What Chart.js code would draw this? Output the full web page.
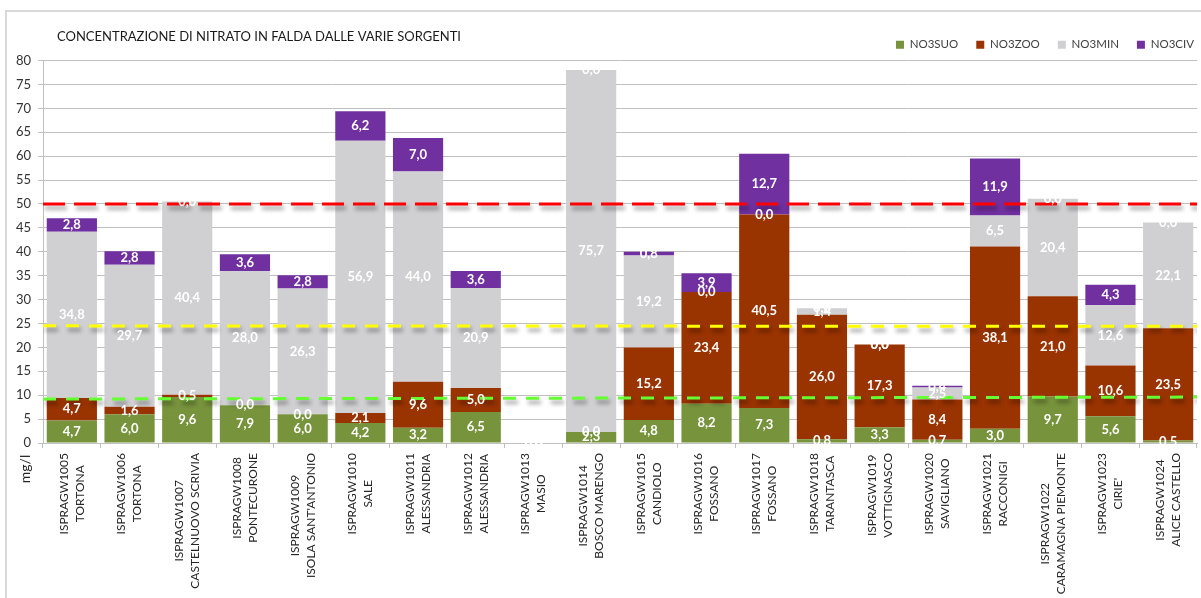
<!DOCTYPE html>
<html lang="it">
<head>
<meta charset="UTF-8">
<title>Nitrato in falda</title>
<script src="https://cdn.jsdelivr.net/npm/chart.js"></script>
<style>
  body { margin: 0; background: #fff; }
  .frame {
    position: absolute; left: 5px; top: 10px; width: 1196px; height: 588px;
    border-left: 2px solid #d9d9d9; border-top: 2px solid #d9d9d9;
  }
  #chart { position: absolute; left: 0; top: 0; }
</style>
</head>
<body>
<div class="frame"></div>
<canvas id="chart" width="1201" height="598"></canvas>
<script>
// stazioni di monitoraggio
const codes = ['ISPRAGW1005', 'ISPRAGW1006', 'ISPRAGW1007', 'ISPRAGW1008', 'ISPRAGW1009',
  'ISPRAGW1010', 'ISPRAGW1011', 'ISPRAGW1012', 'ISPRAGW1013', 'ISPRAGW1014',
  'ISPRAGW1015', 'ISPRAGW1016', 'ISPRAGW1017', 'ISPRAGW1018', 'ISPRAGW1019',
  'ISPRAGW1020', 'ISPRAGW1021', 'ISPRAGW1022', 'ISPRAGW1023', 'ISPRAGW1024'];
const places = ['TORTONA', 'TORTONA', 'CASTELNUOVO SCRIVIA', 'PONTECURONE', "ISOLA SANT'ANTONIO",
  'SALE', 'ALESSANDRIA', 'ALESSANDRIA', 'MASIO', 'BOSCO MARENGO',
  'CANDIOLO', 'FOSSANO', 'FOSSANO', 'TARANTASCA', 'VOTTIGNASCO',
  'SAVIGLIANO', 'RACCONIGI', 'CARAMAGNA PIEMONTE', "CIRIE'", 'ALICE CASTELLO'];

// mg/l per sorgente
const no3suo = [4.7, 6.0, 9.6, 7.9, 6.0, 4.2, 3.2, 6.5, 0.0, 2.3, 4.8, 8.2, 7.3, 0.8, 3.3, 0.7, 3.0, 9.7, 5.6, 0.5];
const no3zoo = [4.7, 1.6, 0.5, 0.0, 0.0, 2.1, 9.6, 5.0, 0.0, 0.0, 15.2, 23.4, 40.5, 26.0, 17.3, 8.4, 38.1, 21.0, 10.6, 23.5];
const no3min = [34.8, 29.7, 40.4, 28.0, 26.3, 56.9, 44.0, 20.9, 0.0, 75.7, 19.2, 0.0, 0.0, 1.4, 0.0, 2.5, 6.5, 20.4, 12.6, 22.1];
const no3civ = [2.8, 2.8, 0.0, 3.6, 2.8, 6.2, 7.0, 3.6, 0.0, 0.0, 0.8, 3.9, 12.7, 0.0, 0.0, 0.4, 11.9, 0.0, 4.3, 0.0];

// soglie orizzontali (inizio, fine)
const limit50 = [50.0, 50.0];
const limitMid = [24.5, 24.4];
const limitLow = [9.2, 9.6];

const yTicks = { min: 0, max: 80, step: 5 };

const FONT = 'Lato';

const lineShadow = {
  id: 'lineShadow',
  beforeDatasetDraw(chart, args) {
    if (args.meta.type !== 'line') return;
    const ctx = chart.ctx;
    ctx.save();
    ctx.shadowColor = 'rgba(0,0,0,0.4)';
    ctx.shadowBlur = 4;
    ctx.shadowOffsetX = 2;
    ctx.shadowOffsetY = 4;
  },
  afterDatasetDraw(chart, args) {
    if (args.meta.type !== 'line') return;
    chart.ctx.restore();
  }
};

// legenda spostata a filo del bordo destro
const legendNudge = {
  id: 'legendNudge',
  afterLayout(chart) {
    chart.legend.left += 15;
    chart.legend.right += 15;
  }
};

const valueLabels = {
  id: 'valueLabels',
  afterDatasetsDraw(chart) {
    const ctx = chart.ctx;
    ctx.save();
    ctx.font = 'bold 13px ' + FONT;
    ctx.fillStyle = '#ffffff';
    ctx.textAlign = 'center';
    ctx.textBaseline = 'middle';
    chart.data.datasets.forEach((ds, i) => {
      if (ds.type === 'line') return;
      chart.getDatasetMeta(i).data.forEach((bar, j) => {
        const txt = ds.data[j].toFixed(1).replace('.', ',');
        ctx.fillText(txt, bar.x, (bar.y + bar.base) / 2);
      });
    });
    ctx.restore();
  }
};

const textBits = {
  id: 'textBits',
  afterDraw(chart) {
    const ctx = chart.ctx;
    const xs = chart.scales.x;
    ctx.save();
    ctx.textBaseline = 'middle';

    // titolo
    ctx.font = '13px ' + FONT;
    ctx.fillStyle = '#1a1a1a';
    ctx.textAlign = 'left';
    ctx.fillText('CONCENTRAZIONE DI NITRATO IN FALDA DALLE VARIE SORGENTI', 57, 37);

    // etichette stazioni, ruotate e centrate fra loro
    ctx.font = '12px ' + FONT;
    ctx.fillStyle = '#262626';
    ctx.textAlign = 'center';
    const top = xs.top + 10;
    codes.forEach((code, i) => {
      const lines = [code, places[i]];
      const len = Math.max(...lines.map(t => ctx.measureText(t).width));
      const cx = xs.getPixelForTick(i);
      lines.forEach((t, k) => {
        ctx.save();
        ctx.translate(cx + (k - 0.5) * 16, top + len / 2);
        ctx.rotate(-Math.PI / 2);
        ctx.fillText(t, 0, 0);
        ctx.restore();
      });
    });

    // unità di misura
    ctx.font = '14px ' + FONT;
    ctx.fillStyle = '#262626';
    ctx.translate(25, 469);
    ctx.rotate(-Math.PI / 2);
    ctx.fillText('mg/l', 0, 0);
    ctx.restore();
  }
};

const thresholdLine = (vals, color, dash, stack) => ({
  type: 'line',
  label: stack,
  data: [{ x: 0, y: vals[0] }, { x: 1, y: vals[1] }],
  xAxisID: 'x2',
  stack: stack,
  borderColor: color,
  borderWidth: 3,
  borderDash: dash,
  pointRadius: 0,
  fill: false,
  order: -1
});

new Chart(document.getElementById('chart'), {
  type: 'bar',
  data: {
    labels: codes,
    datasets: [
      { label: 'NO3SUO', data: no3suo, backgroundColor: '#77933C' },
      { label: 'NO3ZOO', data: no3zoo, backgroundColor: '#993300' },
      { label: 'NO3MIN', data: no3min, backgroundColor: '#D0D0D2' },
      { label: 'NO3CIV', data: no3civ, backgroundColor: '#7030A0' },
      thresholdLine(limit50, '#FF0000', [22, 9], 'lim50'),
      thresholdLine(limitMid, '#FFFF00', [13, 10], 'limMid'),
      thresholdLine(limitLow, '#66FF33', [13, 10], 'limLow')
    ]
  },
  options: {
    responsive: false,
    animation: false,
    layout: { padding: { top: 21, right: 4, left: 0, bottom: 0 } },
    datasets: { bar: { categoryPercentage: 1, barPercentage: 0.87, grouped: false } },
    plugins: {
      tooltip: { enabled: false },
      legend: {
        position: 'top',
        align: 'end',
        labels: {
          filter: item => item.datasetIndex < 4,
          boxWidth: 8,
          boxHeight: 8,
          padding: 18,
          color: '#404040',
          font: { family: FONT, size: 11.5 }
        }
      }
    },
    scales: {
      x: {
        stacked: true,
        grid: { drawOnChartArea: false, color: '#bfbfbf', tickLength: 5 },
        border: { color: '#bfbfbf' },
        ticks: { display: false },
        afterFit: s => { s.height = 155; }
      },
      x2: { type: 'linear', display: false, offset: false, min: 0, max: 1 },
      y: {
        stacked: true,
        min: yTicks.min,
        max: yTicks.max,
        ticks: { stepSize: yTicks.step, color: '#333333', padding: 7, font: { family: FONT, size: 13 } },
        grid: { color: '#bfbfbf', tickLength: 5 },
        border: { color: '#bfbfbf' },
        afterFit: s => { s.width = 43; }
      }
    }
  },
  plugins: [lineShadow, legendNudge, valueLabels, textBits]
});
</script>
</body>
</html>
